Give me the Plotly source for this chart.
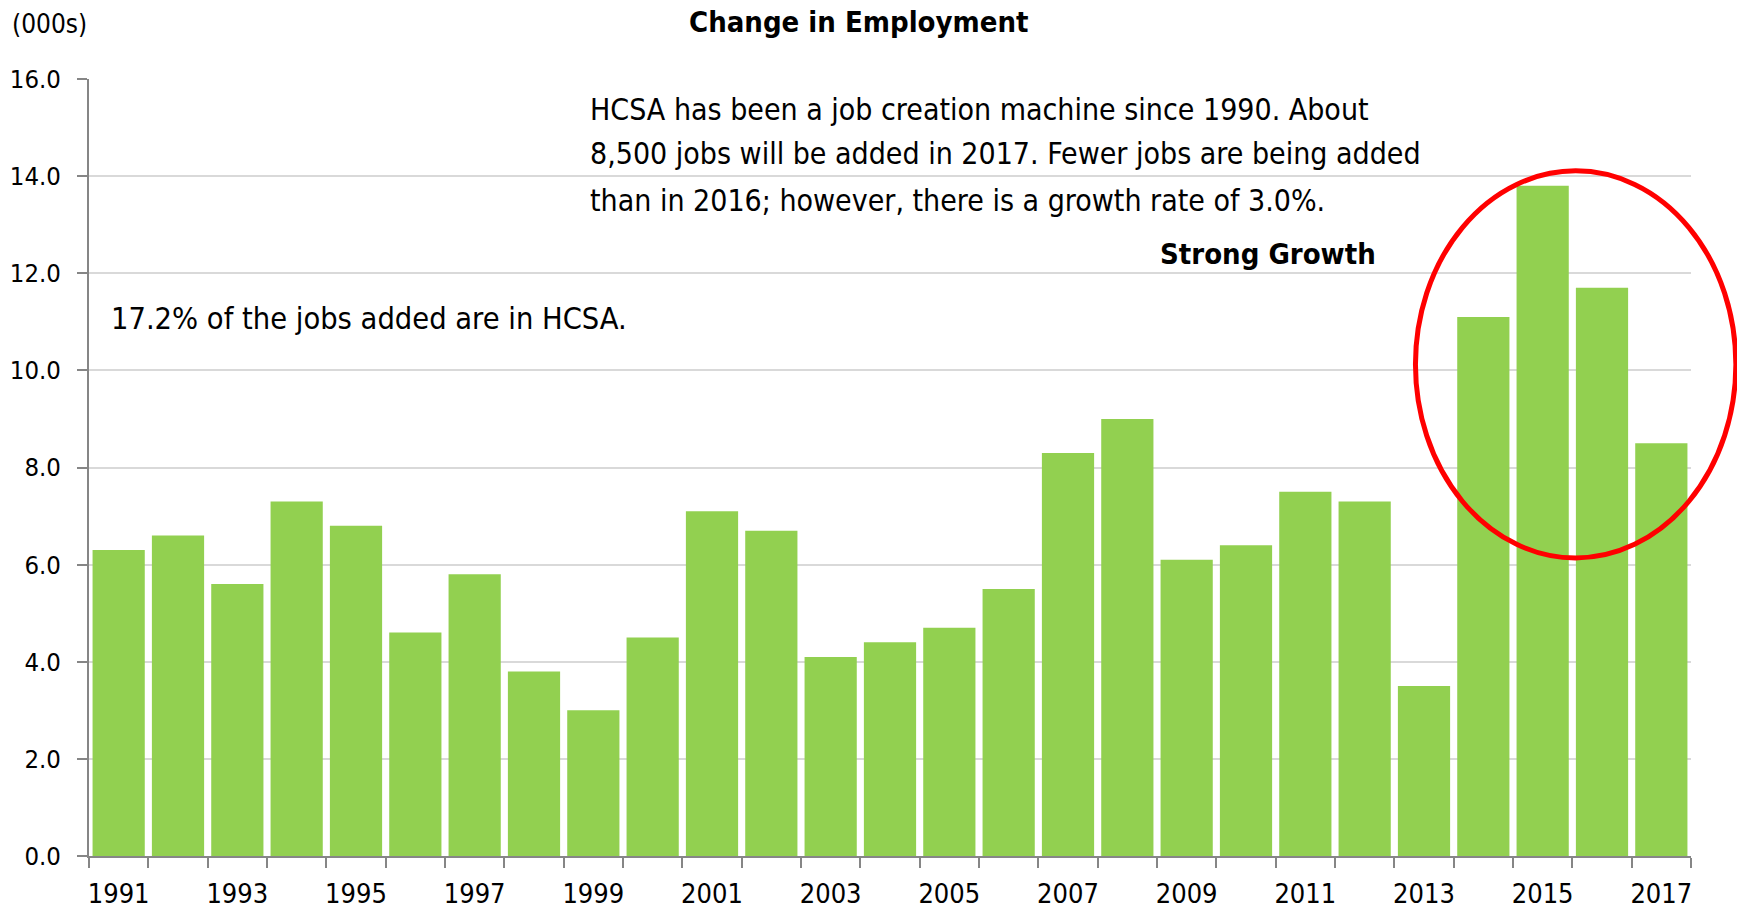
import plotly.graph_objects as go

years = list(range(1991, 2018))
values = [6.3, 6.6, 5.6, 7.3, 6.8, 4.6, 5.8, 3.8, 3.0, 4.5,
          7.1, 6.7, 4.1, 4.4, 4.7, 5.5, 8.3, 9.0, 6.1, 6.4,
          7.5, 7.3, 3.5, 11.1, 13.8, 11.7, 8.5]
label_years = years[::2]
y_ticks = [0, 2, 4, 6, 8, 10, 12, 14, 16]
note_lines = [
    "HCSA has been a job creation machine since 1990. About",
    "8,500 jobs will be added in 2017. Fewer jobs are being added",
    "than in 2016; however, there is a growth rate of 3.0%.",
]

FONT = "Liberation Sans Narrow, Arial Narrow, DejaVu Sans Condensed, sans-serif"
GREEN = "#92D050"
AXIS = "#868686"
GRID = "#D9D9D9"

fig = go.Figure()
fig.add_trace(go.Bar(x=years, y=values, marker=dict(color=GREEN, line=dict(width=0)),
                     width=0.88, hoverinfo="x+y"))

boundaries = [y - 0.5 for y in years] + [years[-1] + 0.5]

annotations = [
    dict(text="<b>Change in Employment</b>", xref="paper", yref="paper", x=0.4804, y=1.0734,
         xanchor="center", yanchor="middle", showarrow=False, font=dict(size=29)),
    dict(text="(000s)", xref="paper", yref="paper", x=-0.0495, y=1.0703,
         xanchor="left", yanchor="middle", showarrow=False, font=dict(size=26)),
    dict(text="<b>Strong Growth</b>", xref="paper", yref="paper", x=0.8046, y=0.775,
         xanchor="right", yanchor="middle", showarrow=False, font=dict(size=29)),
    dict(text="17.2% of the jobs added are in HCSA.", xref="paper", yref="paper",
         x=0.0124, y=0.6924, xanchor="left", yanchor="middle", showarrow=False,
         font=dict(size=30.5)),
]
for line, ypos in zip(note_lines, [0.9605, 0.9035, 0.8436]):
    annotations.append(dict(text=line, xref="paper", yref="paper", x=0.3116, y=ypos,
                            xanchor="left", yanchor="middle", showarrow=False,
                            font=dict(size=30)))

fig.update_layout(
    width=1737, height=911,
    margin=dict(l=89, r=46, t=79, b=55),
    paper_bgcolor="white", plot_bgcolor="white",
    font=dict(family=FONT, size=28, color="black"),
    showlegend=False,
    xaxis=dict(
        range=[1990.5, 2017.5], automargin=False,
        tickvals=label_years, ticktext=[str(y) for y in label_years],
        ticks="", showgrid=False, zeroline=False,
        showline=True, linecolor=AXIS, linewidth=2,
        tickfont=dict(size=27), ticklabelstandoff=13,
        minor=dict(tickvals=boundaries, ticks="outside", ticklen=10, tickcolor=AXIS,
                   tickwidth=2, showgrid=False),
    ),
    yaxis=dict(
        range=[0, 16], tickvals=y_ticks, tickformat=".1f", automargin=False,
        ticks="outside", ticklen=10, tickcolor=AXIS, tickwidth=2,
        showgrid=True, gridcolor=GRID, gridwidth=2,
        zeroline=False, showline=True, linecolor=AXIS, linewidth=2,
        tickfont=dict(size=25.5), ticklabelstandoff=11,
    ),
    annotations=annotations,
    shapes=[
        dict(type="circle", xref="paper", yref="paper", x0=0.828, x1=1.028, y0=0.3836, y1=0.8818,
             line=dict(color="#FF0000", width=5), fillcolor="rgba(0,0,0,0)", layer="above"),
    ],
)

fig.write_html("out.html", config={"displayModeBar": False})
with open("out.html", encoding="utf-8") as f:
    html = f.read()
html = html.replace("<head>", "<head><style>html,body{margin:0;padding:0;overflow:hidden;}</style>", 1)
with open("out.html", "w", encoding="utf-8") as f:
    f.write(html)
